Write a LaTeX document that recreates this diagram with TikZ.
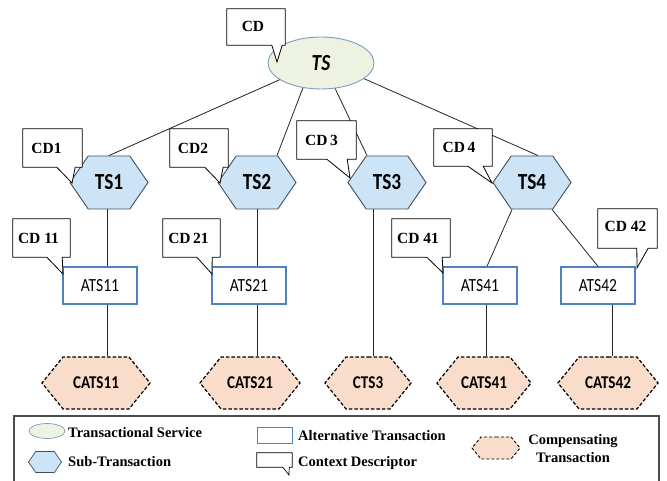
\documentclass[tikz,border=0pt]{standalone}
\usepackage{fontspec}
\setmainfont{Liberation Serif}
\newfontfamily\lab[FakeStretch=0.84]{Carlito}
\usetikzlibrary{shapes.geometric,shapes.symbols,calc}
\definecolor{tsfill}{HTML}{EEF2E0}
\definecolor{tsdraw}{HTML}{7F9DC0}
\definecolor{hexfill}{HTML}{CDE4F6}
\definecolor{hexdraw}{HTML}{3F4F5F}
\definecolor{atsdraw}{HTML}{4F81BD}
\definecolor{catsfill}{HTML}{F9DCCA}
\begin{document}
\begin{tikzpicture}[x=1pt,y=-1pt,
  tsnode/.style={ellipse,draw=tsdraw,fill=tsfill,line width=0.9pt,inner sep=0pt,minimum width=106pt,minimum height=52pt,font=\lab\fontsize{23}{25}\selectfont\bfseries\itshape},
  subtx/.style={signal,signal to=east and west,signal pointer angle=111,draw=hexdraw,fill=hexfill,line width=0.9pt,inner sep=0pt,minimum width=78pt,minimum height=53pt,font=\lab\fontsize{23}{25}\selectfont\bfseries},
  alttx/.style={rectangle,draw=atsdraw,fill=white,line width=1.3pt,inner sep=0pt,minimum width=74pt,minimum height=37pt,font=\lab\fontsize{18.5}{20}\selectfont},
  comptx/.style={signal,signal to=east and west,signal pointer angle=102,draw=black,fill=catsfill,dash pattern=on 3.5pt off 2pt,line width=1.2pt,inner sep=0pt,minimum height=52pt,font=\lab\fontsize{18}{20}\selectfont\bfseries},
  cdbox/.style={rectangle,inner sep=0pt,font=\fontsize{15.5}{17}\selectfont\bfseries},
  cdline/.style={draw=black,fill=white,line width=0.8pt,line join=miter},
  conn/.style={draw=black!85,line width=0.8pt},
  legtext/.style={anchor=west,inner sep=0pt,font=\fontsize{14.5}{17}\selectfont\bfseries}]
\useasboundingbox (0,0) rectangle (667,481);

% main nodes
\node[tsnode] (ts) at (321,63) {TS};
\node[subtx] (ts1) at (109,182.5) {TS1};
\node[subtx] (ts2) at (257,182.5) {TS2};
\node[subtx] (ts3) at (387,182.5) {TS3};
\node[subtx] (ts4) at (532,182.5) {TS4};
\node[alttx] (ats11) at (100,285.5) {ATS11};
\node[alttx] (ats21) at (249,285.5) {ATS21};
\node[alttx] (ats41) at (480,285.5) {ATS41};
\node[alttx] (ats42) at (598,285.5) {ATS42};
\node[comptx,minimum width=108pt] (cats11) at (96,383) {CATS11};
\node[comptx,minimum width=100pt] (cats21) at (250,383) {CATS21};
\node[comptx,minimum width=86pt] (cts3) at (368,383) {CTS3};
\node[comptx,minimum width=94pt] (cats41) at (484,383) {CATS41};
\node[comptx,minimum width=100pt] (cats42) at (608,383) {CATS42};

% connectors
\draw[conn] (ts.202) -- (ts1.north);
\draw[conn] (ts.234) -- ($(ts2.north)+(20,0)$);
\draw[conn] (ts.299) -- ($(ts3.north)+(-20,0)$);
\draw[conn] (ts.340) -- ($(ts4.north)+(6,0)$);
\draw[conn] ($(ts1.south)+(-2,0)$) coordinate (l1) -- (l1 |- ats11.north);
\draw[conn] (l1 |- ats11.south) -- (l1 |- cats11.north);
\draw[conn] ($(ts2.south)+(0,0)$) coordinate (l2) -- (l2 |- ats21.north);
\draw[conn] (l2 |- ats21.south) -- (l2 |- cats21.north);
\draw[conn] ($(ts3.south)+(-14,0)$) coordinate (l3) -- (l3 |- cts3.north);
\draw[conn] ($(ts4.south)+(-20,0)$) -- ($(ats41.north)+(7,0)$);
\draw[conn] ($(ts4.south)+(20,0)$) -- (ats42.north);
\draw[conn] ($(ats41.south)+(6,0)$) coordinate (l4) -- (l4 |- cats41.north);
\draw[conn] ($(ats42.south)+(14,0)$) coordinate (l5) -- (l5 |- cats42.north);

% context descriptors
\node[cdbox,minimum width=58pt,minimum height=36pt] (cd) at (256,27) {};
\coordinate (cdt) at (277,62);
\draw[cdline] (cd.north west) -| (cd.south east) -- ++(-3,0) -- (cdt) -- ($(cd.south west)+(45,0)$) -- (cd.south west) -- cycle;
\node[cdbox] at ($(cd)+(-3,-1)$) {CD};

\node[cdbox,minimum width=59pt,minimum height=38pt] (cd1) at (52.5,148) {};
\coordinate (cd1t) at (72,183);
\draw[cdline] (cd1.north west) -| (cd1.south east) -- ++(-7,0) -- (cd1t) -- ($(cd1.south west)+(34,0)$) -- (cd1.south west) -- cycle;
\node[cdbox] at ($(cd1)+(-6,0)$) {CD1};

\node[cdbox,minimum width=58pt,minimum height=38pt] (cd2) at (199,148) {};
\coordinate (cd2t) at (220,183);
\draw[cdline] (cd2.north west) -| (cd2.south east) -- ++(-5,0) -- (cd2t) -- ($(cd2.south west)+(35,0)$) -- (cd2.south west) -- cycle;
\node[cdbox] at ($(cd2)+(-6,0)$) {CD2};

\node[cdbox,minimum width=59pt,minimum height=38pt] (cd3) at (326.5,140) {};
\coordinate (cd3t) at (350,178);
\draw[cdline] (cd3.north west) -| (cd3.south east) -- ++(-9,0) -- (cd3t) -- ($(cd3.south west)+(30,0)$) -- (cd3.south west) -- cycle;
\node[cdbox] at ($(cd3)+(-5,0)$) {CD\,3};

\node[cdbox,minimum width=58pt,minimum height=37pt] (cd4) at (463,147.5) {};
\coordinate (cd4t) at (492,183);
\draw[cdline] (cd4.north west) -| (cd4.south east) -- ++(-9,0) -- (cd4t) -- ($(cd4.south west)+(34,0)$) -- (cd4.south west) -- cycle;
\node[cdbox] at ($(cd4)+(-4,0)$) {CD\,4};

\node[cdbox,minimum width=57pt,minimum height=38pt] (cd11) at (41.5,238) {};
\coordinate (cd11t) at (63,274);
\draw[cdline] (cd11.north west) -| (cd11.south east) -- ++(-8,0) -- (cd11t) -- ($(cd11.south west)+(34,0)$) -- (cd11.south west) -- cycle;
\node[cdbox] at ($(cd11)+(-3,0)$) {CD 11};

\node[cdbox,minimum width=57pt,minimum height=38pt] (cd21) at (191.5,238) {};
\coordinate (cd21t) at (212,274);
\draw[cdline] (cd21.north west) -| (cd21.south east) -- ++(-8,0) -- (cd21t) -- ($(cd21.south west)+(34,0)$) -- (cd21.south west) -- cycle;
\node[cdbox] at ($(cd21)+(-3,0)$) {CD\,21};

\node[cdbox,minimum width=58pt,minimum height=38pt] (cd41) at (421,238) {};
\coordinate (cd41t) at (443,273);
\draw[cdline] (cd41.north west) -| (cd41.south east) -- ++(-8,0) -- (cd41t) -- ($(cd41.south west)+(35,0)$) -- (cd41.south west) -- cycle;
\node[cdbox] at ($(cd41)+(-3,0)$) {CD 41};

\node[cdbox,minimum width=59pt,minimum height=39pt] (cd42) at (627.5,228.5) {};
\coordinate (cd42t) at (637,268);
\draw[cdline] (cd42.north west) -| (cd42.south east) -- ++(-9,0) -- (cd42t) -- ($(cd42.south west)+(39,0)$) -- (cd42.south west) -- cycle;
\node[cdbox] at ($(cd42)+(-2,-2)$) {CD 42};

% legend
\draw[draw=black!70,line width=1.3pt] (14,490) coordinate (lgbl) |- (659,416) coordinate (lgtr) -- (659,490);
\node[ellipse,draw=tsdraw,fill=tsfill,line width=0.7pt,minimum width=36pt,minimum height=15pt,inner sep=0pt] (lg1) at (47,431) {};
\node[legtext] (lt1) at (68,433) {Transactional Service};
\node[signal,signal to=east and west,signal pointer angle=111,draw=hexdraw,fill=hexfill,line width=0.7pt,minimum width=33pt,minimum height=21pt,inner sep=0pt] (lg2) at (45,462) {};
\node[legtext] (lt2) at (68,462) {Sub-Transaction};
\node[rectangle,draw=atsdraw,line width=1pt,minimum width=35pt,minimum height=16pt,inner sep=0pt] (lg3) at (274.5,435) {};
\node[legtext] (lt3) at (298,436) {Alternative Transaction};
\node[cdbox,minimum width=35pt,minimum height=14pt] (lg4) at (274.5,460) {};
\coordinate (lg4t) at (289,475);
\draw[cdline,line width=0.7pt] (lg4.north west) -| (lg4.south east) -- ++(-3,0) -- (lg4t) -- ($(lg4.south west)+(26,0)$) -- (lg4.south west) -- cycle;
\node[legtext] (lt4) at (298,463) {Context Descriptor};
\node[signal,signal to=east and west,signal pointer angle=102,draw=black,fill=catsfill,dash pattern=on 3pt off 2pt,line width=0.9pt,minimum width=48pt,minimum height=22pt,inner sep=0pt] (lg5) at (496,448) {};
\node[align=center,inner sep=0pt,font=\fontsize{14.5}{18}\selectfont\bfseries] (lt5) at (573,449) {Compensating\\Transaction};
\end{tikzpicture}
\end{document}
